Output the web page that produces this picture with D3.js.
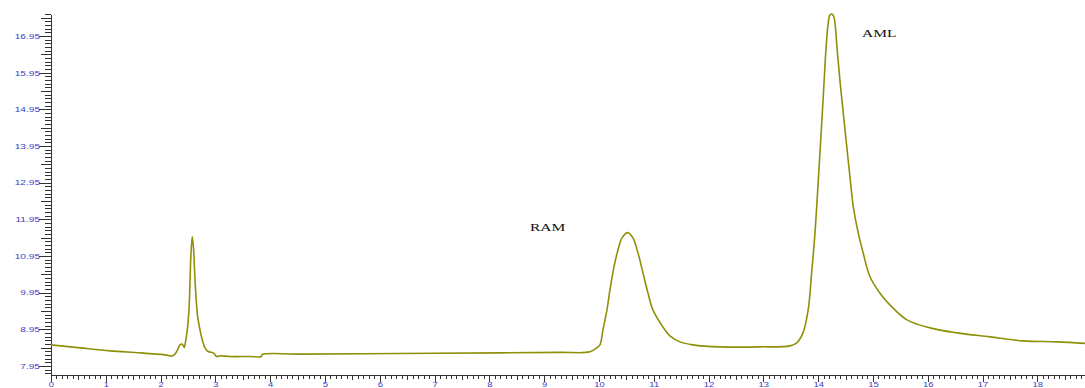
<!DOCTYPE html>
<html>
<head>
<meta charset="utf-8">
<script src="https://cdn.jsdelivr.net/npm/d3@7"></script>
<style>
  body { margin: 0; background: #fff; }
  .axis path, .axis line { stroke: #333; shape-rendering: crispEdges; }
  .axis text { fill: #3c3cc8; font-family: "Liberation Sans", Arial, sans-serif; font-size: 7px; }
  .peak-label { font-family: "Liberation Serif", "Times New Roman", serif; font-size: 10px; fill: #111; }
</style>
</head>
<body>
<div id="div-chromatogram"></div>
<script>

// retention time (min) and detector signal
var traceTime = [
  0.000, 0.530, 1.080, 1.620, 2.080, 2.226, 2.294, 2.354, 2.396, 2.432,
  2.445, 2.487, 2.518, 2.536, 2.555, 2.578, 2.604, 2.622, 2.646, 2.677,
  2.719, 2.761, 2.810, 2.870, 2.962, 3.024, 3.084, 3.266, 3.631, 3.837,
  3.856, 4.544, 6.369, 8.194, 9.288, 9.836, 9.958, 10.018, 10.073, 10.146,
  10.201, 10.274, 10.347, 10.420, 10.524, 10.620, 10.712, 10.803, 10.894, 10.985,
  11.204, 11.296, 11.478, 11.715, 12.208, 12.938, 13.485, 13.608, 13.723, 13.818,
  13.881, 13.942, 13.996, 14.047, 14.097, 14.142, 14.184, 14.215, 14.252, 14.288,
  14.307, 14.348, 14.403, 14.453, 14.516, 14.580, 14.641, 14.732, 14.823, 14.945,
  15.128, 15.310, 15.620, 16.040, 16.533, 17.135, 17.737, 18.358, 18.869
];

var traceSignal = [
  8.523, 8.441, 8.359, 8.305, 8.250, 8.223, 8.340, 8.523, 8.542, 8.449,
  8.523, 8.932, 9.477, 10.213, 11.032, 11.468, 11.086, 10.486, 9.832, 9.286,
  8.932, 8.659, 8.441, 8.340, 8.305, 8.204, 8.223, 8.204, 8.204, 8.204,
  8.258, 8.269, 8.285, 8.305, 8.318, 8.332, 8.441, 8.523, 8.932, 9.477,
  10.023, 10.650, 11.113, 11.440, 11.585, 11.440, 11.032, 10.486, 9.941, 9.477,
  8.932, 8.768, 8.604, 8.523, 8.468, 8.468, 8.495, 8.577, 8.850, 9.477,
  10.478, 11.569, 12.840, 14.113, 15.387, 16.567, 17.304, 17.522, 17.549, 17.467,
  17.310, 16.567, 15.659, 14.931, 14.022, 13.113, 12.295, 11.569, 11.023, 10.387,
  9.932, 9.613, 9.204, 8.986, 8.850, 8.741, 8.632, 8.604, 8.563
];

var xDomain = [0, 18.87];
var yDomain = [7.70, 17.55];

var xMajorTicks = d3.range(0, 19, 1);
var yMajorTicks = [7.95, 8.95, 9.95, 10.95, 11.95, 12.95, 13.95, 14.95, 15.95, 16.95];
var yTickLabels = ["7.95", "8.95", "9.95", "10.95", "11.95", "12.95", "13.95", "14.95", "15.95", "16.95"];

var peakNames = ["RAM", "AML"];
var peakLabelTime = [8.74, 14.80];
var peakLabelSignal = [11.63, 16.92];

function Chromatogram(div) {

  this.div = div;
  this.size = {'w': 1085, 'h': 388};
  this.plot = {'left': 51, 'right': 1085, 'top': 14, 'bottom': 375};

  this.svg = div.append("svg")
                .attr("width", this.size.w)
                .attr("height", this.size.h);

  this.data = traceTime.map(function (t, i) { return {t: t, v: traceSignal[i]}; });
}

Chromatogram.prototype.draw = function () {

  var plot = this.plot,
      svg  = this.svg;

  var XScale = d3.scaleLinear().domain(xDomain).range([plot.left, plot.right]);
  var YScale = d3.scaleLinear().domain(yDomain).range([plot.bottom, plot.top]);

  // minor / half / whole-unit ticks on x
  var xMinor = d3.range(0, 18.9, 0.1).filter(function (d) { return Math.abs(d - Math.round(d*2)/2) > 0.01; });
  var xHalf  = d3.range(0.5, 18.9, 1);

  svg.append("g").attr("class", "axis").attr("transform", "translate(0," + plot.bottom + ")")
     .call(d3.axisBottom(XScale).tickValues(xMinor).tickFormat("").tickSize(4).tickSizeOuter(0));
  svg.append("g").attr("class", "axis").attr("transform", "translate(0," + plot.bottom + ")")
     .call(d3.axisBottom(XScale).tickValues(xHalf).tickFormat("").tickSize(5).tickSizeOuter(0));

  var xAxis = svg.append("g").attr("class", "axis").attr("id", "x-axis")
     .attr("transform", "translate(0," + plot.bottom + ")")
     .call(d3.axisBottom(XScale).tickValues(xMajorTicks).tickFormat(d3.format("d")).tickSize(7).tickSizeOuter(0));

  xAxis.selectAll("text")
       .attr("y", 0).attr("dy", "0.71em")
       .attr("transform", "translate(0,7) scale(1.35,1)");

  // y ticks every 0.1, longer at .45 and the labelled .95 values
  var yMinor = d3.range(0, 99).map(function (k) { return 7.75 + k*0.1; })
                 .filter(function (d) { var f = Math.round((d - 7.95)*10) % 5; return f !== 0 && d <= yDomain[1] + 0.001; });
  var yHalf  = yMajorTicks.map(function (d) { return d + 0.5; }).concat([7.45]).filter(function (d) { return d >= yDomain[0] && d <= yDomain[1] + 0.001; });

  svg.append("g").attr("class", "axis").attr("transform", "translate(" + plot.left + ",0)")
     .call(d3.axisLeft(YScale).tickValues(yMinor).tickFormat("").tickSize(6).tickSizeOuter(0));
  svg.append("g").attr("class", "axis").attr("transform", "translate(" + plot.left + ",0)")
     .call(d3.axisLeft(YScale).tickValues(yHalf).tickFormat("").tickSize(10).tickSizeOuter(0));

  var yAxis = svg.append("g").attr("class", "axis").attr("id", "y-axis")
     .attr("transform", "translate(" + plot.left + ",0)")
     .call(d3.axisLeft(YScale).tickValues(yMajorTicks)
              .tickFormat(function (d, i) { return yTickLabels[i]; })
              .tickSize(12).tickSizeOuter(0));

  yAxis.selectAll("text")
       .attr("x", 0)
       .style("font-size", "7.5px")
       .attr("transform", "translate(-11,0) scale(1.35,1)");

  var line = d3.line()
               .x(function (d) { return XScale(d.t); })
               .y(function (d) { return YScale(d.v); })
               .curve(d3.curveCatmullRom.alpha(0.5));

  svg.append("path")
     .datum(this.data)
     .attr("d", line)
     .attr("fill", "none")
     .attr("stroke", "#8f8f0a")
     .attr("stroke-width", 1.6)
     .attr("stroke-linejoin", "round");

  svg.selectAll(".peak-label")
     .data(peakNames)
     .enter().append("text")
     .attr("class", "peak-label")
     .attr("transform", function (d, i) {
        return "translate(" + XScale(peakLabelTime[i]) + "," + YScale(peakLabelSignal[i]) + ") scale(1.55,1)";
     })
     .text(function (d) { return d; });
}

var chart = new Chromatogram(d3.select("#div-chromatogram"));
chart.draw();

</script>
</body>
</html>
